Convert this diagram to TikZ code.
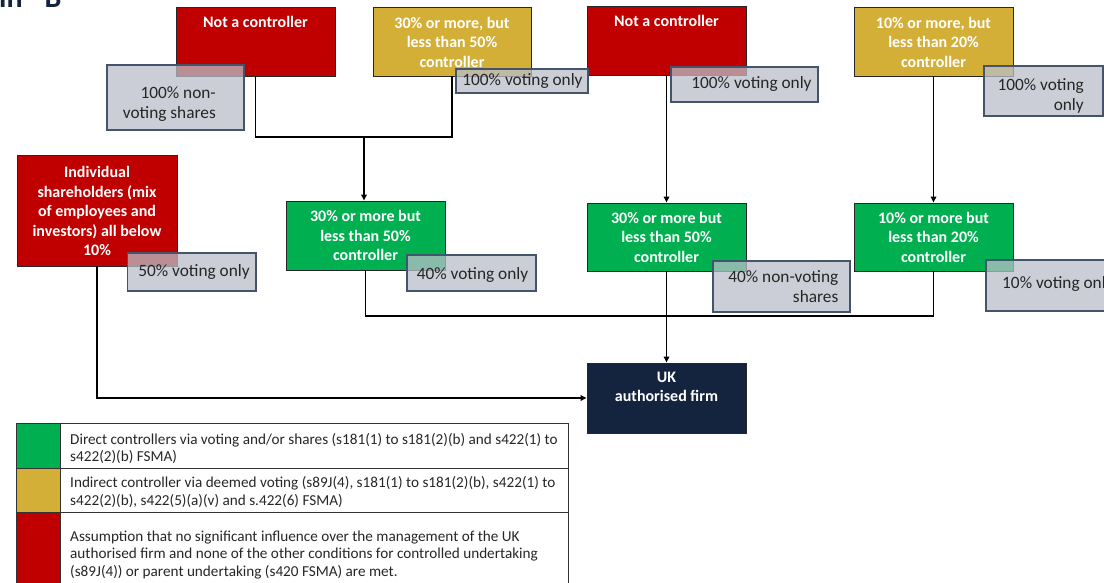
\documentclass[tikz,border=0pt]{standalone}
\usepackage{fontspec}
\setmainfont{Carlito}
\usetikzlibrary{arrows.meta}
\definecolor{cred}{HTML}{C00000}
\definecolor{cgold}{HTML}{D4AF37}
\definecolor{cgreen}{HTML}{00B050}
\definecolor{cnavy}{HTML}{14243F}
\definecolor{cgray}{HTML}{B9BEC8}
\definecolor{cgrayline}{HTML}{44546A}
\begin{document}
\begin{tikzpicture}[x=1pt,y=-1pt,
  colbox/.style={draw=black!85, line width=0.9pt, inner sep=0pt},
  redbox/.style={colbox, fill=cred},
  goldbox/.style={colbox, fill=cgold},
  greenbox/.style={colbox, fill=cgreen},
  navybox/.style={colbox, fill=cnavy},
  boxtxt/.style={text=white, align=center, inner sep=0pt, font=\fontsize{16}{19.5}\selectfont\bfseries},
  graybox/.style={draw=cgrayline, line width=1.3pt, fill=cgray, fill opacity=0.75, inner sep=0pt},
  graytxt/.style={inner sep=0pt, text=black!85, font=\fontsize{17.3}{20}\selectfont},
  conn/.style={line width=1.6pt, black},
  arr/.style={conn, -{Triangle[length=6pt,width=5.5pt]}},
  legcell/.style={draw=black!80, line width=0.9pt, inner sep=0pt},
  legtxt/.style={inner sep=0pt, anchor=west, align=left, text=black!85, font=\fontsize{15.2}{17.5}\selectfont}
]
\useasboundingbox (0,0) rectangle (1104,582);
\clip (0,0) rectangle (1104,582);

% title fragment (clipped at top)
\node[anchor=base west, inner sep=0pt, text=cnavy, font=\fontsize{30}{30}\selectfont\bfseries] (title) at (-1,7) {in\hspace{22pt}B};

% coordinates for junctions
\coordinate (j1) at (364,137);
\coordinate (j2) at (666.5,316);

% coloured boxes
\node[redbox, minimum width=159pt, minimum height=69pt] (red1) at (255.5,41.5) {};
\node[goldbox, minimum width=158pt, minimum height=69pt] (gold1) at (452,41.5) {};
\node[redbox, minimum width=159pt, minimum height=69pt] (red2) at (666.5,40.5) {};
\node[goldbox, minimum width=159pt, minimum height=69pt] (gold2) at (933.5,41.5) {};
\node[redbox, minimum width=160pt, minimum height=111pt] (red3) at (97,210.5) {};
\node[greenbox, minimum width=159pt, minimum height=69pt] (green1) at (365.5,235.5) {};
\node[greenbox, minimum width=159pt, minimum height=68pt] (green2) at (666.5,237) {};
\node[greenbox, minimum width=159pt, minimum height=68pt] (green3) at (933.5,237) {};
\node[navybox, minimum width=159pt, minimum height=70pt] (uk) at (666.5,398) {};

% connectors
\draw[conn] (red1.south) |- (j1) -| (gold1.south);
\draw[arr] (j1) -- (j1 |- green1.north);
\draw[arr] (red2.south) -- (green2.north);
\draw[arr] (gold2.south) -- (green3.north);
\draw[conn] (green1.south) |- (j2) -| (green3.south);
\draw[arr] (green2.south) -- (uk.north);
\draw[arr] (red3.south) |- (uk.west);

% box texts
\node[boxtxt] (red1t) at (255.5,22) {Not a controller};
\node[boxtxt] (gold1t) at (452,42) {30\% or more, but\\less than 50\%\\controller};
\node[boxtxt] (red2t) at (666.5,21) {Not a controller};
\node[boxtxt] (gold2t) at (933.5,42) {10\% or more, but\\less than 20\%\\controller};
\node[boxtxt] (red3t) at (97,211) {Individual\\shareholders (mix\\of employees and\\investors) all below\\10\%};
\node[boxtxt] (green1t) at (365.5,235.5) {30\% or more but\\less than 50\%\\controller};
\node[boxtxt] (green2t) at (666.5,237) {30\% or more but\\less than 50\%\\controller};
\node[boxtxt] (green3t) at (933.5,237) {10\% or more but\\less than 20\%\\controller};
\node[boxtxt] (ukt) at (666.5,387) {UK\\authorised firm};

% grey share boxes
\node[graybox, minimum width=137pt, minimum height=65pt] (g1) at (175.5,97.5) {};
\node[graytxt, align=right, anchor=east] (g1t) at (216,104) {100\% non-\\voting shares};
\node[graybox, minimum width=132pt, minimum height=24pt] (g2) at (522,81) {};
\node[graytxt] (g2t) at (522.5,81) {100\% voting only};
\node[graybox, minimum width=147pt, minimum height=35pt] (g3) at (744.5,84.5) {};
\node[graytxt] (g3t) at (751.5,83.5) {100\% voting only};
\node[graybox, minimum width=119pt, minimum height=50pt] (g4) at (1043.5,91) {};
\node[graytxt, align=right, anchor=east] (g4t) at (1084,96) {100\% voting\\only};
\node[graybox, minimum width=128.5pt, minimum height=38pt] (g5) at (191.75,272) {};
\node[graytxt] (g5t) at (194,272) {50\% voting only};
\node[graybox, minimum width=129pt, minimum height=36pt] (g6) at (471.5,273) {};
\node[graytxt] (g6t) at (472.5,275) {40\% voting only};
\node[graybox, minimum width=137pt, minimum height=51pt] (g7) at (781.5,286.5) {};
\node[graytxt, align=right, anchor=east] (g7t) at (838.5,286.5) {40\% non-voting\\shares};
\node[graybox, minimum width=134pt, minimum height=51pt] (g8) at (1053,285.5) {};
\node[graytxt, anchor=west] (g8t) at (1002,284) {10\% voting only};

% legend
\node[legcell, fill=cgreen, minimum width=44pt, minimum height=45pt] (sw1) at (38,445.5) {};
\node[legcell, fill=cgold, minimum width=44pt, minimum height=44pt] (sw2) at (38,490) {};
\node[legcell, fill=cred, minimum width=44pt, minimum height=86pt] (sw3) at (38,555) {};
\node[legcell, minimum width=508pt, minimum height=45pt] (c1) at (314,445.5) {};
\node[legcell, minimum width=508pt, minimum height=44pt] (c2) at (314,490) {};
\node[legcell, minimum width=508pt, minimum height=86pt] (c3) at (314,555) {};
\node[legtxt] (l1) at (70,448.5) {Direct controllers via voting and/or shares (s181(1) to s181(2)(b) and s422(1) to\\s422(2)(b) FSMA)};
\node[legtxt] (l2) at (70,492) {Indirect controller via deemed voting (s89J(4), s181(1) to s181(2)(b), s422(1) to\\s422(2)(b), s422(5)(a)(v) and s.422(6) FSMA)};
\node[legtxt] (l3) at (70,555) {Assumption that no significant influence over the management of the UK\\authorised firm and none of the other conditions for controlled undertaking\\(s89J(4)) or parent undertaking (s420 FSMA) are met.};
\end{tikzpicture}
\end{document}
